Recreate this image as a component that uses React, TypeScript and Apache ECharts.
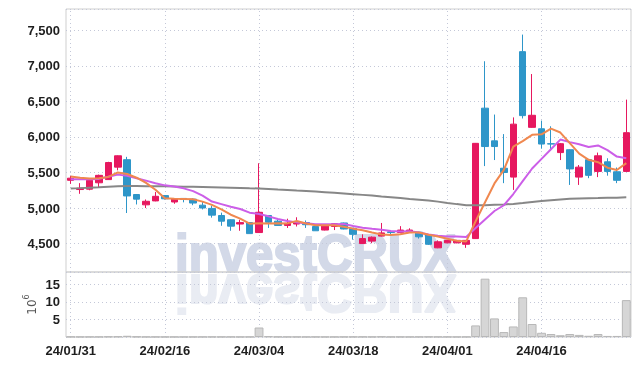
import React, { useEffect, useRef } from 'react';
import * as echarts from 'echarts';

const dates = [
  '24/01/31', '24/02/01', '24/02/02', '24/02/05', '24/02/06', '24/02/07', '24/02/08', '24/02/13', '24/02/14', '24/02/15',
  '24/02/16', '24/02/19', '24/02/20', '24/02/21', '24/02/22', '24/02/23', '24/02/26', '24/02/27', '24/02/28', '24/02/29',
  '24/03/04', '24/03/05', '24/03/06', '24/03/07', '24/03/08', '24/03/11', '24/03/12', '24/03/13', '24/03/14', '24/03/15',
  '24/03/18', '24/03/19', '24/03/20', '24/03/21', '24/03/22', '24/03/25', '24/03/26', '24/03/27', '24/03/28', '24/03/29',
  '24/04/01', '24/04/02', '24/04/03', '24/04/04', '24/04/05', '24/04/08', '24/04/09', '24/04/11', '24/04/12', '24/04/15',
  '24/04/16', '24/04/17', '24/04/18', '24/04/19', '24/04/22', '24/04/23', '24/04/24', '24/04/25', '24/04/26', '24/04/29',
];

const opens = [
  5390, 5260, 5265, 5355, 5400, 5575, 5680, 5190, 5045, 5100,
  5175, 5085, 5135, 5125, 5040, 4995, 4895, 4835, 4775, 4795,
  4655, 4895, 4815, 4755, 4775, 4795, 4740, 4690, 4740, 4790,
  4715, 4500, 4535, 4605, 4665, 4655, 4660, 4660, 4625, 4440,
  4510, 4510, 4490, 4570, 6405, 5945, 5560, 5435, 7200, 6135,
  6115, 5905, 5780, 5820, 5435, 5680, 5515, 5650, 5510, 5515,
];
const closes = [
  5420, 5280, 5390, 5460, 5640, 5735, 5170, 5125, 5095, 5165,
  5130, 5130, 5120, 5070, 5000, 4900, 4815, 4745, 4795, 4640,
  4940, 4800, 4755, 4785, 4805, 4765, 4680, 4755, 4780, 4705,
  4630, 4570, 4590, 4650, 4655, 4690, 4690, 4595, 4490, 4525,
  4545, 4545, 4545, 5910, 5865, 5865, 5500, 6180, 6300, 6305,
  5900, 5900, 5905, 5550, 5575, 5460, 5735, 5515, 5390, 6060,
];
const lows = [
  5340, 5200, 5250, 5290, 5395, 5530, 4930, 5050, 5000, 5095,
  5120, 5060, 5080, 5040, 4980, 4865, 4750, 4680, 4680, 4640,
  4650, 4720, 4750, 4720, 4740, 4720, 4680, 4685, 4690, 4700,
  4555, 4495, 4505, 4600, 4620, 4645, 4655, 4570, 4480, 4435,
  4505, 4505, 4440, 4565, 5590, 5675, 5350, 5255, 6260, 6130,
  5835, 5805, 5675, 5325, 5325, 5420, 5435, 5455, 5350, 5510,
];
const highs = [
  5450, 5350, 5400, 5470, 5650, 5740, 5720, 5195, 5120, 5225,
  5180, 5135, 5140, 5135, 5095, 5035, 4935, 4840, 4835, 4800,
  5630, 4900, 4835, 4850, 4870, 4825, 4750, 4760, 4785, 4795,
  4720, 4630, 4600, 4790, 4690, 4745, 4715, 4665, 4630, 4545,
  4550, 4550, 4550, 5915, 7065, 6315, 6040, 6275, 7440, 6885,
  6230, 6150, 5915, 5825, 5605, 5685, 5780, 5700, 5570, 6525,
];

// volume, in millions of shares
const volumes = [
  0.08, 0.05, 0.06, 0.07, 0.12, 0.15, 0.35, 0.1, 0.06, 0.05,
  0.04, 0.04, 0.03, 0.04, 0.05, 0.06, 0.05, 0.06, 0.04, 0.07,
  2.7, 0.2, 0.08, 0.06, 0.05, 0.04, 0.05, 0.04, 0.04, 0.05,
  0.06, 0.08, 0.05, 0.1, 0.04, 0.05, 0.04, 0.05, 0.08, 0.06,
  0.05, 0.04, 0.06, 3.3, 16.6, 5.3, 1.4, 3.0, 11.3, 3.7,
  1.2, 0.85, 0.5, 0.85, 0.6, 0.35, 0.85, 0.3, 0.3, 10.5,
];

const ma5 = [
  5445, 5425, 5415, 5420, 5438, 5501, 5479, 5426, 5353, 5258,
  5137, 5129, 5128, 5123, 5090, 5044, 4981, 4906, 4851, 4779,
  4787, 4784, 4786, 4784, 4817, 4782, 4758, 4758, 4757, 4737,
  4710, 4688, 4655, 4629, 4619, 4631, 4655, 4656, 4624, 4598,
  4569, 4540, 4530, 4814, 5082, 5346, 5537, 5864, 5942, 6030,
  6037, 6117, 6062, 5912, 5766, 5678, 5645, 5567, 5535, 5632,
];
const ma10 = [
  5405, 5405, 5405, 5410, 5440, 5470, 5455, 5420, 5385, 5348,
  5319, 5304, 5277, 5238, 5174, 5091, 5055, 5017, 4987, 4935,
  4916, 4883, 4846, 4818, 4798, 4785, 4771, 4772, 4771, 4777,
  4746, 4723, 4707, 4693, 4678, 4671, 4672, 4656, 4627, 4609,
  4600, 4598, 4593, 4719, 4840, 4958, 5039, 5197, 5378, 5556,
  5692, 5827, 5963, 5927, 5898, 5858, 5881, 5815, 5724, 5699,
];
const maLong = [
  5275, 5280, 5286, 5292, 5300, 5308, 5311, 5310, 5308, 5306,
  5305, 5303, 5301, 5299, 5297, 5294, 5290, 5286, 5282, 5278,
  5275, 5268, 5260, 5253, 5246, 5240, 5232, 5223, 5214, 5205,
  5195, 5185, 5175, 5163, 5152, 5140, 5128, 5118, 5105, 5090,
  5072, 5055, 5040, 5038, 5040, 5045, 5050, 5058, 5070, 5085,
  5100, 5110, 5120, 5130, 5135, 5138, 5140, 5143, 5145, 5150,
];

const tickDates = ['24/01/31', '24/02/16', '24/03/04', '24/03/18', '24/04/01', '24/04/16'];

const UP = '#e6185f';
const DOWN = '#2e96c9';
const GRID_DOT = '#c4c8d8';
const FONT = "'Liberation Sans', Arial, sans-serif";

const vLines = (z: number) => ({
  silent: true,
  symbol: ['none', 'none'],
  label: { show: false },
  z,
  lineStyle: { color: GRID_DOT, type: [1, 3], width: 1 },
  emphasis: { disabled: true },
  data: tickDates.map((d) => ({ xAxis: d })),
});

const watermarkStyle = {
  x: 0,
  y: -18.7,
  text: 'investCRUX',
  fontSize: 54,
  fontWeight: 'bold',
  fontFamily: "'Liberation Sans', Arial, sans-serif",
  verticalAlign: 'middle',
  align: 'left',
  lineWidth: 2.2,
};

export default function App() {
  const ref = useRef<HTMLDivElement>(null);
  useEffect(() => {
    const chart = echarts.init(ref.current!, null, { renderer: 'svg' });
    const labelStyle = { color: '#1e1e1e', fontSize: 13, fontWeight: 'bold', fontFamily: FONT };
    const option: any = {
      animation: false,
      textStyle: { fontFamily: FONT },
      graphic: [
        {
          type: 'text',
          x: 175,
          y: 272,
          scaleX: 0.91,
          z: -10,
          silent: true,
          style: { ...watermarkStyle, fill: '#d3d9e8', stroke: '#d3d9e8' },
        },
        {
          type: 'text',
          x: 175,
          y: 275,
          scaleX: 0.91,
          scaleY: -1,
          z: -10,
          silent: true,
          style: { ...watermarkStyle, fill: '#e9ecf3', stroke: '#e9ecf3' },
        },
      ],
      grid: [
        { left: 66, right: 8, top: 9, height: 263, show: true, borderColor: '#cfcfcf', borderWidth: 1, backgroundColor: 'transparent' },
        { left: 66, right: 8, top: 272, height: 65, show: true, borderColor: '#cfcfcf', borderWidth: 1, backgroundColor: 'transparent' },
      ],
      xAxis: [
        {
          type: 'category',
          gridIndex: 0,
          data: dates,
          boundaryGap: true,
          axisLine: { show: false },
          axisTick: { show: false },
          axisLabel: { show: false },
          splitLine: { show: false },
        },
        {
          type: 'category',
          gridIndex: 1,
          data: dates,
          boundaryGap: true,
          axisLine: { show: false },
          axisTick: { show: false },
          splitLine: { show: false },
          axisLabel: { show: true, interval: 9, margin: 7, ...labelStyle },
        },
      ],
      yAxis: [
        {
          type: 'value',
          gridIndex: 0,
          min: 4100,
          max: 7800,
          splitNumber: 7,
          axisLine: { show: false },
          axisTick: { show: false },
          axisLabel: {
            ...labelStyle,
            margin: 6,
            showMinLabel: false,
            showMaxLabel: false,
            formatter: (v: number) => v.toLocaleString('en-US'),
          },
          splitLine: { show: true, lineStyle: { color: GRID_DOT, type: [1, 3], width: 1 } },
        },
        {
          type: 'value',
          gridIndex: 1,
          min: 0,
          max: 18.5,
          interval: 5,
          name: '10{s|6}',
          nameLocation: 'middle',
          nameRotate: 90,
          nameGap: 24,
          nameMoveOverlap: false,
          nameTextStyle: {
            color: '#555',
            fontSize: 12,
            fontFamily: "'DejaVu Sans', sans-serif",
            rich: { s: { fontSize: 8, verticalAlign: 'top', lineHeight: 20, color: '#555', fontFamily: "'DejaVu Sans', sans-serif" } },
          },
          axisLine: { show: false },
          axisTick: { show: false },
          axisLabel: {
            ...labelStyle,
            margin: 6,
            showMinLabel: false,
            showMaxLabel: false,
          },
          splitLine: { show: true, lineStyle: { color: GRID_DOT, type: [1, 3], width: 1 } },
        },
      ],
      series: [
        {
          type: 'candlestick',
          xAxisIndex: 0,
          yAxisIndex: 0,
          barWidth: 7,
          data: dates.map((_, i) => [opens[i], closes[i], lows[i], highs[i]]),
          itemStyle: { color: UP, color0: DOWN, borderColor: UP, borderColor0: DOWN, borderWidth: 1 },
          markLine: vLines(1),
        },
        {
          type: 'line',
          xAxisIndex: 0,
          yAxisIndex: 0,
          data: maLong,
          symbol: 'none',
          lineStyle: { color: '#878787', width: 2 },
          z: 3,
        },
        {
          type: 'line',
          xAxisIndex: 0,
          yAxisIndex: 0,
          data: ma10,
          symbol: 'none',
          lineStyle: { color: '#cc5ee8', width: 2 },
          z: 3,
        },
        {
          type: 'line',
          xAxisIndex: 0,
          yAxisIndex: 0,
          data: ma5,
          symbol: 'none',
          lineStyle: { color: '#f0884f', width: 2 },
          z: 4,
        },
        {
          type: 'bar',
          xAxisIndex: 1,
          yAxisIndex: 1,
          data: volumes,
          barCategoryGap: '6%',
          itemStyle: { color: '#d6d6d6', borderColor: '#b8b8b8', borderWidth: 1 },
          markLine: vLines(1),
        },
      ],
    };
    chart.setOption(option);
    return () => chart.dispose();
  }, []);
  return <div ref={ref} style={{ position: 'fixed', left: 0, top: 0, width: 639, height: 366 }} />;
}
